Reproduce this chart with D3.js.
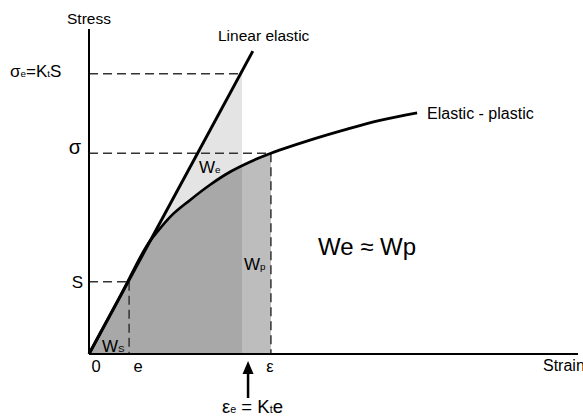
<!DOCTYPE html>
<html>
<head>
<meta charset="utf-8">
<script src="https://cdn.jsdelivr.net/npm/d3@7"></script>
<style>
  body { margin: 0; background: #fff; }
  text { font-family: "Liberation Sans", Arial, sans-serif; fill: #000; }
</style>
</head>
<body>
<div id="chart-area"></div>
<script>
// levels on the strain axis: e, eps_e, eps
const strainLevels = [8.2, 31.3, 37.2]
// levels on the stress axis: S, sigma, sigma_e
const stressLevels = [22.2, 61.8, 86.2]
// linear elastic line (strain, stress)
const linearStrain = [0, 33.5]
const linearStress = [0, 93.2]
// elastic - plastic curve
const curveStrain = [0, 6.3, 12.6, 13.9, 16.6, 20.7, 24.7, 28.8, 32.9, 37.2, 39.1, 46.0, 52.8, 59.5, 67.1]
const curveStress = [0, 17.5, 35.05, 37.5, 42.2, 47.4, 52.0, 56.0, 59.1, 61.8, 62.8, 66.2, 69.2, 71.9, 74.2]

const w = 583
const h = 417

const [e, epsE, eps] = strainLevels
const [S, sig, sigE] = stressLevels

const x = d3.scaleLinear().domain([0, 100]).range([89, 578])
const y = d3.scaleLinear().domain([0, 100]).range([354, 29])

const svg = d3.select("#chart-area")
   .append("svg")
   .attr("width", w)
   .attr("height", h)

const curve = curveStrain.map((d, i) => [d, curveStress[i]])
const line = d3.line().x(d => x(d[0])).y(d => y(d[1])).curve(d3.curveMonotoneX)
const area = d3.area().x(d => x(d[0])).y0(y(0)).y1(d => y(d[1])).curve(d3.curveMonotoneX)

const slope = linearStress[1] / linearStrain[1]

// light triangle under the linear line up to eps_e
svg.append("path")
   .attr("d", d3.line()([[x(0), y(0)], [x(epsE), y(slope * epsE)], [x(epsE), y(0)]]))
   .attr("fill", "#e4e4e4")

// area under the curve up to eps (medium strip)
const underCurve = curve.filter(d => d[0] <= eps)
svg.append("path")
   .attr("d", area(underCurve))
   .attr("fill", "#bdbdbd")

// darker part up to eps_e
svg.append("clipPath")
   .attr("id", "clipE")
   .append("rect")
   .attr("x", x(0))
   .attr("y", 0)
   .attr("width", x(epsE) - x(0))
   .attr("height", h)

svg.append("path")
   .attr("d", area(underCurve))
   .attr("fill", "#a8a8a8")
   .attr("clip-path", "url(#clipE)")

// dashed guide lines
const dashed = [
   [[0, sigE], [sigE / slope, sigE]],
   [[0, sig], [eps, sig]],
   [[0, S], [e, S]],
   [[e, S], [e, 0]],
   [[eps, sig], [eps, 0]]
]
svg.selectAll(".guide")
   .data(dashed)
   .enter()
   .append("line")
   .attr("class", "guide")
   .attr("x1", d => x(d[0][0]))
   .attr("y1", d => y(d[0][1]))
   .attr("x2", d => x(d[1][0]))
   .attr("y2", d => y(d[1][1]))
   .attr("stroke", "#333")
   .attr("stroke-width", 1.5)
   .attr("stroke-dasharray", "9,5")

// axes
svg.append("line")
   .attr("x1", x(0)).attr("y1", y(0))
   .attr("x2", x(0)).attr("y2", y(100))
   .attr("stroke", "#000").attr("stroke-width", 2)
svg.append("line")
   .attr("x1", x(0)).attr("y1", y(0))
   .attr("x2", x(100)).attr("y2", y(0))
   .attr("stroke", "#000").attr("stroke-width", 2)

// linear elastic line
svg.append("line")
   .attr("x1", x(linearStrain[0])).attr("y1", y(linearStress[0]))
   .attr("x2", x(linearStrain[1])).attr("y2", y(linearStress[1]))
   .attr("stroke", "#000").attr("stroke-width", 3)

// elastic - plastic curve
svg.append("path")
   .attr("d", line(curve))
   .attr("fill", "none")
   .attr("stroke", "#000")
   .attr("stroke-width", 2.7)

// text with subscripts: parts = [[text, isSub], ...]
function label(px, py, parts, size, anchor) {
   const t = svg.append("text")
      .attr("x", px)
      .attr("y", py)
      .attr("font-size", size)
      .attr("text-anchor", anchor || "start")
   parts.forEach(p => {
      t.append("tspan")
         .attr("font-size", p[1] ? size * 0.58 : size)
         .text(p[0])
   })
   return t
}

label(x(0), 24, [["Stress"]], 15.5, "middle")
label(218, 41, [["Linear elastic"]], 15.5)
label(427, 119, [["Elastic - plastic"]], 16)
label(543, 371, [["Strain"]], 16)

label(10, 77, [["σ"], ["e", 1], ["=K"], ["t", 1], ["S"]], 17)
label(81, 154, [["σ"]], 20, "end")
label(83, y(S) + 6, [["S"]], 17, "end")

label(x(0) + 7, 372, [["0"]], 16.5, "middle")
label(x(e) + 9, 372, [["e"]], 16.5, "middle")
label(x(eps) - 1, 372, [["ε"]], 16.5, "middle")
label(222, 413, [["ε"], ["e", 1], [" = K"], ["t", 1], ["e"]], 18.5)

label(199, 173, [["W"], ["e", 1]], 17)
label(244, 270, [["W"], ["p", 1]], 17)
label(102, 352, [["W"], ["S", 1]], 17)

label(318, 255, [["We ≈ Wp"]], 24)

// arrow pointing at eps_e
const ax = x(epsE) + 6
svg.append("path")
   .attr("d", d3.line()([[ax, 361], [ax - 5.5, 374], [ax + 5.5, 374]]) + "Z")
   .attr("fill", "#000")
svg.append("line")
   .attr("x1", ax).attr("y1", 372)
   .attr("x2", ax).attr("y2", 398)
   .attr("stroke", "#000").attr("stroke-width", 2.5)
</script>
</body>
</html>
